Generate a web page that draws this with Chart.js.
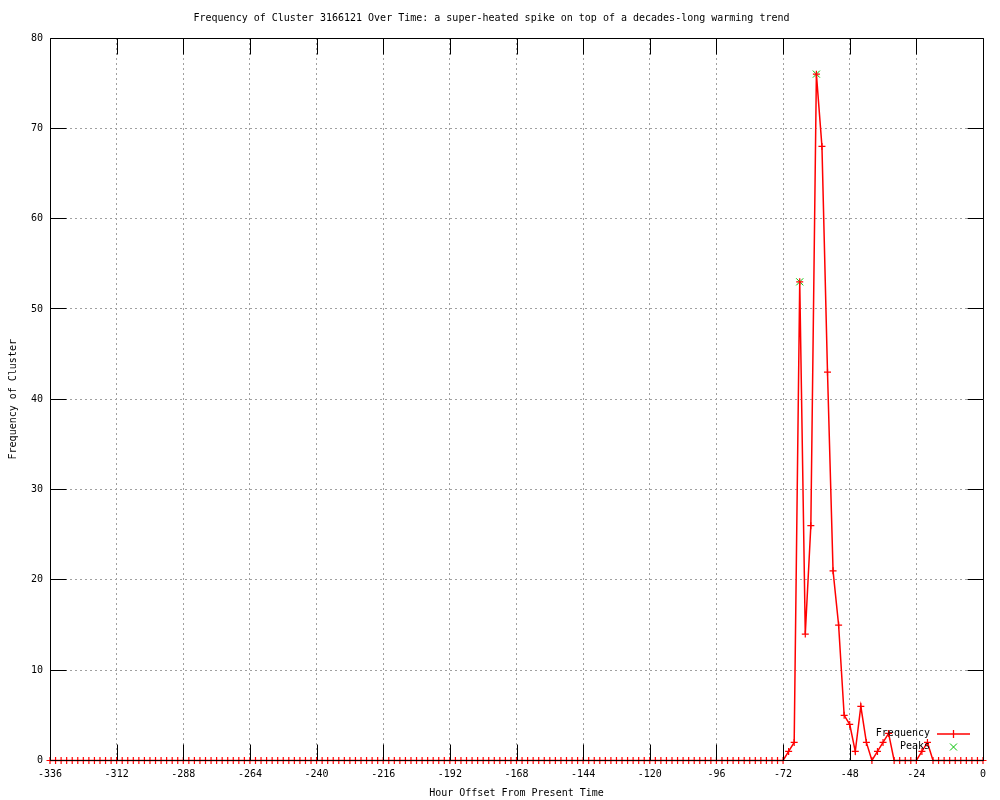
<!DOCTYPE html>
<html>
<head>
<meta charset="utf-8">
<script src="https://cdn.jsdelivr.net/npm/chart.js@4.4.1/dist/chart.umd.min.js"></script>
<style>
body { margin: 0; background: #fff; }
#wrap { width: 1000px; height: 800px; }
</style>
</head>
<body>
<div id="wrap"><canvas id="clusterChart"></canvas></div>
<script>
// hour offsets (one sample every 2 hours)
const hours = [
    -336,-334,-332,-330,-328,-326,-324,-322,-320,-318,-316,-314,
    -312,-310,-308,-306,-304,-302,-300,-298,-296,-294,-292,-290,
    -288,-286,-284,-282,-280,-278,-276,-274,-272,-270,-268,-266,
    -264,-262,-260,-258,-256,-254,-252,-250,-248,-246,-244,-242,
    -240,-238,-236,-234,-232,-230,-228,-226,-224,-222,-220,-218,
    -216,-214,-212,-210,-208,-206,-204,-202,-200,-198,-196,-194,
    -192,-190,-188,-186,-184,-182,-180,-178,-176,-174,-172,-170,
    -168,-166,-164,-162,-160,-158,-156,-154,-152,-150,-148,-146,
    -144,-142,-140,-138,-136,-134,-132,-130,-128,-126,-124,-122,
    -120,-118,-116,-114,-112,-110,-108,-106,-104,-102,-100,-98,
    -96,-94,-92,-90,-88,-86,-84,-82,-80,-78,-76,-74,
    -72,-70,-68,-66,-64,-62,-60,-58,-56,-54,-52,-50,
    -48,-46,-44,-42,-40,-38,-36,-34,-32,-30,-28,-26,
    -24,-22,-20,-18,-16,-14,-12,-10,-8,-6,-4,-2,
    0
];
const frequency = [
    0,0,0,0,0,0,0,0,0,0,0,0,
    0,0,0,0,0,0,0,0,0,0,0,0,
    0,0,0,0,0,0,0,0,0,0,0,0,
    0,0,0,0,0,0,0,0,0,0,0,0,
    0,0,0,0,0,0,0,0,0,0,0,0,
    0,0,0,0,0,0,0,0,0,0,0,0,
    0,0,0,0,0,0,0,0,0,0,0,0,
    0,0,0,0,0,0,0,0,0,0,0,0,
    0,0,0,0,0,0,0,0,0,0,0,0,
    0,0,0,0,0,0,0,0,0,0,0,0,
    0,0,0,0,0,0,0,0,0,0,0,0,
    0,1,2,53,14,26,76,68,43,21,15,5,
    4,1,6,2,0,1,2,3,0,0,0,0,
    0,1,2,0,0,0,0,0,0,0,0,0,
    0
];
const peakHours = [-66, -60];
const peakValues = [53, 76];

const xMin = -336, xMax = 0, xStep = 24;
const yMin = 0, yMax = 80, yStep = 10;

const MONO = '"DejaVu Sans Mono", "Liberation Mono", monospace';
const RED = '#ff0000';
const GREEN = '#00c000';

const freqPoints = hours.map((h, i) => ({ x: h, y: frequency[i] }));
const peakPoints = peakHours.map((h, i) => ({ x: h, y: peakValues[i] }));

// gnuplot-like frame, inward tics and key
const frameAndKey = {
    id: 'frameAndKey',
    afterDatasetsDraw(chart) {
        const { ctx, chartArea: a, scales } = chart;
        const top = Math.round(a.top) + 0.5;
        const bottom = scales.y.getPixelForValue(yMin);
        const left = Math.round(a.left) + 0.5;
        const right = Math.round(a.right) + 0.5;
        const tic = 16;

        ctx.save();
        ctx.strokeStyle = '#000';
        ctx.lineWidth = 1;
        ctx.beginPath();
        scales.x.ticks.forEach(t => {
            const px = Math.round(scales.x.getPixelForValue(t.value)) + 0.5;
            ctx.moveTo(px, bottom); ctx.lineTo(px, bottom - tic);
            ctx.moveTo(px, top); ctx.lineTo(px, top + tic);
        });
        scales.y.ticks.forEach(t => {
            const py = Math.round(scales.y.getPixelForValue(t.value) - 0.5) + 0.5;
            ctx.moveTo(left, py); ctx.lineTo(left + tic, py);
            ctx.moveTo(right, py); ctx.lineTo(right - tic, py);
        });
        ctx.moveTo(left, top); ctx.lineTo(right, top);
        ctx.lineTo(right, bottom); ctx.lineTo(left, bottom);
        ctx.lineTo(left, top);
        ctx.stroke();

        // key
        const row1 = a.bottom - 27, row2 = a.bottom - 14;
        const textRight = a.right - 53;
        const markX = a.right - 30;
        ctx.font = '10px ' + MONO;
        ctx.fillStyle = '#000';
        ctx.textAlign = 'right';
        ctx.textBaseline = 'middle';
        ctx.fillText('Frequency', textRight, row1);
        ctx.fillText('Peaks', textRight, row2);

        ctx.strokeStyle = RED;
        ctx.lineWidth = 1.3;
        ctx.beginPath();
        ctx.moveTo(a.right - 46, row1 + 0.5); ctx.lineTo(a.right - 13, row1 + 0.5);
        ctx.moveTo(markX + 0.5, row1 - 3.5); ctx.lineTo(markX + 0.5, row1 + 4.5);
        ctx.stroke();

        ctx.strokeStyle = GREEN;
        ctx.lineWidth = 1;
        ctx.beginPath();
        ctx.moveTo(markX - 3, row2 - 3); ctx.lineTo(markX + 4, row2 + 4);
        ctx.moveTo(markX + 4, row2 - 3); ctx.lineTo(markX - 3, row2 + 4);
        ctx.stroke();
        ctx.restore();
    }
};

const gridColor = (ctx, lo, hi) =>
    (ctx.tick && (ctx.tick.value === lo || ctx.tick.value === hi)) ? 'rgba(0,0,0,0)' : '#a0a0a0';

const ctx = document.getElementById('clusterChart').getContext('2d');
new Chart(ctx, {
    type: 'line',
    data: {
        datasets: [{
            label: 'Frequency',
            data: freqPoints,
            borderColor: RED,
            borderWidth: 1.5,
            pointStyle: 'cross',
            pointRadius: 3.5,
            pointBorderColor: RED,
            pointBorderWidth: 1.2,
            fill: false,
            tension: 0,
            clip: false
        }, {
            label: 'Peaks',
            data: peakPoints,
            showLine: false,
            pointStyle: 'crossRot',
            pointRadius: 5,
            pointBorderColor: GREEN,
            pointBorderWidth: 1,
            clip: false
        }]
    },
    options: {
        responsive: true,
        maintainAspectRatio: false,
        animation: false,
        events: [],
        layout: { padding: { left: 0, right: 17, top: 0, bottom: 0 } },
        plugins: {
            legend: { display: false },
            tooltip: { enabled: false },
            title: {
                display: true,
                text: 'Frequency of Cluster 3166121 Over Time: a super-heated spike on top of a decades-long warming trend',
                color: '#000',
                font: { family: MONO, size: 10, weight: 'normal' },
                padding: { top: 12, bottom: 14 }
            }
        },
        scales: {
            x: {
                type: 'linear',
                min: xMin,
                max: xMax,
                afterFit: s => { s.height = 39.5; },
                ticks: {
                    stepSize: xStep,
                    maxRotation: 0,
                    autoSkip: false,
                    padding: 8,
                    color: '#000',
                    font: { family: MONO, size: 10 }
                },
                grid: {
                    drawTicks: false,
                    color: c => gridColor(c, xMin, xMax)
                },
                border: { display: false, dash: [2, 3] },
                title: {
                    display: true,
                    text: 'Hour Offset From Present Time',
                    color: '#000',
                    font: { family: MONO, size: 10 },
                    padding: { top: 0, bottom: 1 }
                }
            },
            y: {
                min: yMin,
                max: yMax,
                afterFit: s => { s.width = 50; },
                ticks: {
                    stepSize: yStep,
                    padding: 7,
                    color: '#000',
                    font: { family: MONO, size: 10 }
                },
                grid: {
                    drawTicks: false,
                    color: c => gridColor(c, yMin, yMax)
                },
                border: { display: false, dash: [2, 3] },
                title: {
                    display: true,
                    text: 'Frequency of Cluster',
                    color: '#000',
                    font: { family: MONO, size: 10 },
                    padding: { top: 7, bottom: 0 }
                }
            }
        }
    },
    plugins: [frameAndKey]
});
</script>
</body>
</html>
